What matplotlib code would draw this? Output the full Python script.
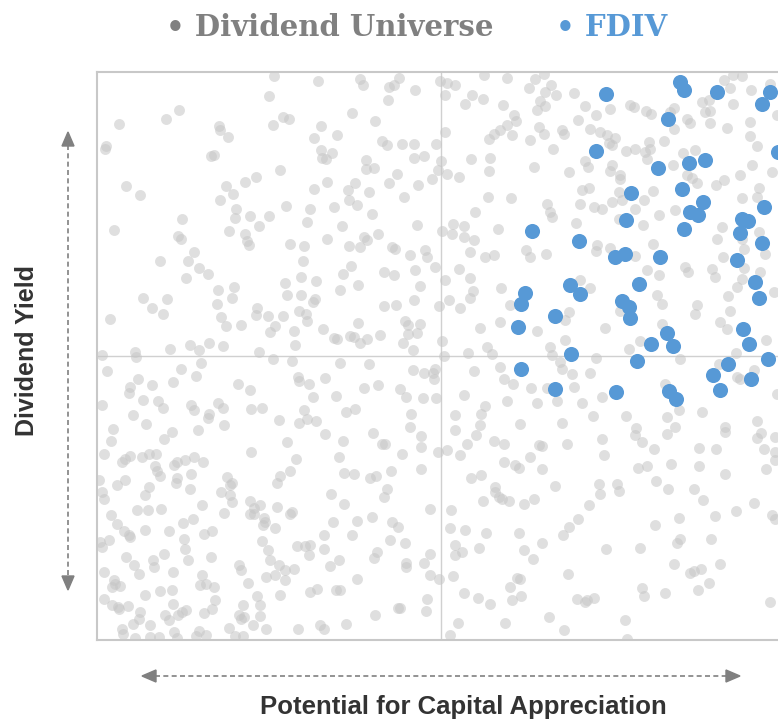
import matplotlib
matplotlib.use("Agg")
import matplotlib.pyplot as plt
from matplotlib.lines import Line2D
from matplotlib.patches import Polygon

# scores on an arbitrary 0..688 (capital appreciation) x 0..568 (dividend yield) scale
universe_x = [
    177, 221, 172, 82, 69, 186, 192, 176, 22, 122, 123, 131, 224, 217, 9, 8, 114, 117, 224, 225,
    229, 183, 159, 148, 29, 43, 129, 136, 123, 217, 230, 139, 138, 153, 162, 172, 189, 213, 210, 85,
    17, 81, 84, 132, 148, 150, 152, 193, 207, 97, 63, 91, 230, 206,
    263, 266, 302, 292, 297, 318, 291, 343, 350, 358, 348, 387, 410, 375, 386, 368, 406, 432, 438, 447,
    454, 448, 459, 443, 440, 448, 255, 278, 417, 419, 410, 403, 397, 392, 415, 442, 447, 433, 240, 348,
    285, 290, 305, 317, 339, 235, 269, 269, 277, 317, 327, 344, 341, 374, 393, 392, 437, 456, 258, 251,
    252, 260, 272, 292, 300, 321, 335, 350, 362, 307, 237, 275, 391, 414, 378, 450, 453, 455, 245, 320,
    267, 270, 281, 252, 263, 295, 298, 313, 328, 330, 345, 355, 356, 367, 367, 377, 373, 401, 429, 433,
    449, 388, 397,
    477, 488, 499, 513, 481, 533, 537, 549, 554, 577, 573, 627, 636, 645, 633, 605, 612, 608, 613, 636,
    654, 673, 590, 593, 613, 630, 653, 653, 680, 465, 467, 493, 503, 510, 518, 512, 515, 577, 567, 552,
    553, 548, 529, 538, 586, 598, 660, 550, 488, 491, 515, 513, 523, 523, 472, 576, 655, 675, 590, 595,
    600, 619, 627, 643, 485, 492, 556, 522, 662, 660, 645, 483, 497, 505, 515, 525, 547, 538, 578, 562,
    625, 479, 522, 546, 620, 645, 662, 556, 500, 499, 513, 538, 626, 647, 668,
    102, 111, 89, 121, 137, 135, 120, 46, 70, 55, 66, 13, 124, 129, 144, 204, 188, 219, 190, 204,
    218, 216, 160, 159, 171, 186, 178, 173, 202, 209, 210, 197, 226, 93, 102, 112, 126, 73, 104, 198,
    5, 38, 39, 162, 176, 195, 10, 84, 99, 76, 41, 33, 32, 55, 141, 153, 201, 202, 212, 228,
    216, 5, 46, 61, 66, 94, 97, 121, 126, 112, 111, 154, 165, 207, 210, 219, 202, 182, 36, 49,
    16, 14, 127, 101, 75, 67, 190, 228,
    254, 246, 243, 261, 287, 297, 318, 338, 323, 287, 299, 317, 342, 261, 308, 311, 323, 320, 311, 306,
    316, 237, 240, 253, 257, 263, 270, 283, 345, 348, 362, 373, 376, 373, 352, 363, 404, 413, 403, 383,
    440, 390, 395, 371, 347, 453, 455, 243, 272, 316, 327, 336, 337, 338, 267, 281, 303, 309, 326, 339,
    239, 377, 403, 407, 416, 434, 450, 367, 410, 440, 388, 384, 383, 379, 358, 358, 249, 258, 314, 313,
    324, 423, 276, 285, 288, 246, 324, 370, 397, 407, 442, 445, 350,
    483, 493, 550, 562, 588, 591, 615, 618, 645, 640, 647, 663, 677, 560, 565, 600, 598, 631, 633, 472,
    468, 508, 523, 565, 623, 630, 669, 468, 543, 532, 499, 583, 639, 622, 463, 465, 475, 477, 493, 568,
    640, 643, 657, 505, 485, 460, 605, 582, 496, 529, 570, 465, 539, 538, 545, 557, 578, 570, 628, 628,
    660, 664, 660, 678, 470, 505, 602, 619, 678, 667, 680,
    7, 25, 33, 28, 45, 52, 59, 58, 60, 63, 80, 77, 88, 97, 106, 80, 79, 94, 93, 154,
    199, 193, 183, 180, 2, 28, 20, 52, 48, 5, 7, 130, 135, 133, 124, 133, 135, 105, 40, 51,
    64, 14, 127, 153, 157, 163, 153, 157, 180, 193, 195, 167, 168, 166, 178, 20, 27, 32, 33, 48,
    72, 86, 96, 107, 115, 87, 88, 91, 3, 12, 5, 165, 171, 173, 200, 208, 213, 212, 227, 227,
    67, 29, 37, 42, 56, 57, 114, 76, 142, 144, 182, 188, 197, 178, 169, 188, 7, 105, 103, 109,
    117, 151, 17, 18, 15, 23, 48, 63, 75, 7, 183, 213, 220, 118, 115, 107, 76, 15, 21, 22,
    31, 43, 42, 36, 68, 72, 81, 85, 89, 53, 160, 163, 163, 146, 142, 144, 147, 156, 132, 169,
    201, 223, 227, 25, 26, 38, 53, 62, 77, 80, 102, 99, 109, 138, 146,
    242, 305, 341, 247, 257, 273, 279, 294, 324, 290, 287, 234, 247, 333, 275, 260, 236, 295, 301, 255,
    293, 308, 280, 277, 242, 233, 333, 327, 309, 309, 333, 342, 260, 239, 243, 330, 329, 301, 303, 278,
    249, 363, 407, 418, 422, 433, 445, 374, 384, 398, 398, 402, 405, 412, 386, 427, 437, 458, 354, 353,
    368, 389, 422, 358, 365, 358, 382, 427, 436, 445, 356, 420, 423, 413, 415, 424, 367, 381, 393, 361,
    353, 408, 452,
    507, 541, 550, 574, 602, 628, 669, 678, 502, 503, 520, 522, 559, 571, 597, 606, 657, 639, 492, 481,
    472, 466, 558, 582, 618, 675, 678, 509, 543, 583, 580, 614, 577, 593, 597, 604, 623, 471, 545, 547,
    568, 612, 601, 480, 488, 490, 497, 673, 528, 467, 530,
]
universe_y = [
    564, 559, 544, 530, 521, 523, 521, 515, 516, 514, 510, 503, 514, 502, 494, 491, 484, 485, 490, 482,
    481, 470, 463, 458, 454, 445, 454, 446, 440, 451, 458, 431, 422, 424, 414, 424, 434, 431, 418, 421,
    410, 404, 401, 409, 406, 399, 395, 396, 394, 388, 379, 379, 401, 379,
    561, 555, 562, 553, 555, 550, 540, 559, 557, 555, 545, 565, 562, 545, 541, 536, 535, 552, 561, 566,
    555, 548, 545, 539, 530, 534, 527, 519, 525, 519, 515, 510, 506, 501, 505, 513, 506, 500, 505, 508,
    499, 495, 496, 496, 496, 487, 480, 471, 472, 482, 484, 479, 470, 481, 482, 469, 473, 491, 457, 450,
    440, 435, 448, 457, 466, 455, 461, 466, 463, 443, 433, 426, 443, 442, 428, 436, 428, 423, 414, 415,
    403, 400, 406, 394, 393, 393, 391, 385, 390, 383, 409, 406, 416, 414, 403, 400, 388, 411, 390, 383,
    386, 383, 385,
    547, 534, 525, 531, 520, 535, 533, 529, 526, 532, 528, 560, 565, 564, 552, 538, 540, 528, 529, 536,
    550, 556, 521, 517, 517, 512, 518, 504, 525, 510, 506, 511, 508, 505, 502, 497, 495, 511, 499, 498,
    491, 488, 489, 491, 487, 490, 494, 481, 479, 473, 475, 469, 465, 461, 468, 475, 475, 468, 465, 462,
    457, 455, 460, 465, 450, 452, 449, 448, 452, 443, 442, 436, 433, 431, 438, 440, 440, 431, 430, 425,
    413, 417, 421, 415, 401, 401, 408, 396, 395, 389, 392, 384, 383, 391, 386,
    372, 366, 362, 350, 353, 342, 336, 342, 341, 332, 326, 321, 323, 314, 315, 363, 357, 359, 345, 345,
    341, 338, 332, 325, 324, 324, 314, 308, 329, 326, 319, 309, 311, 295, 290, 297, 294, 291, 277, 295,
    285, 288, 283, 288, 281, 279, 269, 271, 264, 258, 261, 253, 247, 255, 256, 250, 263, 259, 256, 262,
    243, 235, 240, 239, 232, 235, 230, 237, 232, 226, 222, 231, 232, 230, 221, 219, 217, 220, 225, 216,
    211, 199, 215, 210, 208, 201, 198, 206,
    374, 366, 350, 355, 368, 365, 370, 373, 354, 334, 335, 340, 334, 317, 319, 315, 316, 307, 306, 297,
    290, 302, 301, 304, 303, 297, 301, 305, 299, 360, 371, 362, 349, 342, 340, 332, 352, 335, 318, 312,
    309, 293, 286, 287, 284, 293, 285, 277, 276, 270, 267, 267, 261, 271, 252, 255, 251, 243, 242, 242,
    244, 269, 273, 261, 256, 252, 252, 245, 239, 237, 234, 226, 215, 205, 225, 210, 228, 231, 226, 213,
    204, 216, 207, 196, 196, 199, 193, 196, 199, 196, 195, 194, 190,
    360, 352, 370, 365, 373, 368, 371, 363, 361, 353, 372, 368, 348, 345, 336, 335, 326, 344, 329, 328,
    320, 312, 329, 316, 318, 311, 300, 300, 299, 291, 282, 281, 287, 276, 278, 271, 266, 253, 267, 256,
    263, 261, 270, 243, 237, 239, 228, 230, 224, 224, 223, 217, 212, 205, 198, 191, 213, 206, 213, 208,
    219, 207, 202, 203, 196, 201, 192, 191, 188, 191, 246,
    186, 178, 184, 181, 183, 186, 186, 174, 169, 164, 178, 175, 180, 183, 178, 162, 157, 166, 151, 188,
    181, 169, 164, 157, 160, 160, 155, 153, 145, 148, 141, 163, 157, 155, 148, 145, 138, 135, 130, 130,
    131, 125, 127, 139, 132, 135, 126, 126, 133, 126, 128, 122, 118, 115, 112, 116, 109, 105, 103, 110,
    109, 117, 121, 106, 109, 101, 91, 80, 98, 100, 93, 99, 90, 80, 94, 94, 95, 85, 105, 91,
    86, 83, 75, 66, 80, 73, 83, 68, 75, 70, 75, 70, 71, 65, 63, 60, 68, 65, 55, 56,
    53, 57, 60, 56, 53, 54, 45, 49, 50, 41, 45, 48, 51, 40, 31, 27, 36, 35, 33, 31,
    34, 28, 21, 16, 25, 20, 25, 28, 30, 15, 44, 35, 24, 35, 25, 21, 23, 15, 12, 11,
    11, 15, 11, 11, 6, 2, 3, 3, 8, 2, 9, 4, 5, 4, 4,
    183, 186, 188, 167, 166, 162, 164, 169, 171, 151, 143, 146, 136, 131, 123, 119, 118, 118, 113, 105,
    100, 97, 88, 82, 80, 74, 86, 77, 77, 73, 65, 61, 61, 50, 50, 41, 29, 32, 32, 25,
    16, 185, 178, 175, 172, 183, 171, 162, 165, 153, 148, 143, 141, 139, 139, 136, 141, 154, 130, 112,
    110, 107, 107, 95, 88, 85, 92, 90, 81, 97, 64, 62, 61, 53, 40, 44, 47, 42, 36, 17,
    5, 17, 23,
    185, 172, 174, 176, 174, 166, 171, 180, 156, 146, 156, 149, 159, 151, 151, 140, 137, 129, 135, 121,
    113, 105, 115, 122, 124, 125, 121, 91, 92, 101, 97, 101, 76, 67, 69, 71, 76, 66, 52, 44,
    47, 57, 50, 41, 38, 40, 42, 38, 20, 10, 1,
]

fdiv_x = [
    435, 509, 583, 587, 620, 673, 665, 571, 499, 561, 592, 608, 681, 534, 585, 606, 593, 601, 667, 529,
    587, 645, 651, 643, 665, 482, 518, 528, 563, 640, 428, 424, 421, 458, 424, 458, 473, 483, 542, 525,
    532, 533, 658, 662, 570, 576, 554, 646, 652, 474, 540, 671, 631, 616, 623, 654, 519, 572, 579,
]
fdiv_y = [
    409, 546, 558, 550, 548, 548, 536, 521, 489, 472, 477, 480, 488, 447, 451, 438, 428, 425, 433, 420,
    411, 421, 419, 407, 397, 399, 383, 386, 383, 380, 347, 336, 313, 324, 271, 251, 355, 346, 356, 339,
    333, 322, 358, 342, 307, 294, 296, 311, 296, 286, 279, 281, 276, 265, 250, 261, 248, 249, 241,
]

x_max, y_max = 688, 568
x_mid, y_mid = 344, 284

W, H = 778, 721
GREY = "#808080"
BLUE = "#5799d6"


def fx(px):
    return px / W


def fy(py):
    return 1 - py / H


fig = plt.figure(figsize=(W / 100, H / 100), dpi=100)
ax = fig.add_axes([fx(97), fy(640), 688 / W, 568 / H])
ax.set_xlim(0, x_max)
ax.set_ylim(0, y_max)
ax.set_xticks([])
ax.set_yticks([])
for s in ax.spines.values():
    s.set_color("#c8c8c8")
    s.set_linewidth(1.5)

ax.axvline(x_mid, color="#d0d0d0", lw=1, zorder=0)
ax.axhline(y_mid, color="#d0d0d0", lw=1, zorder=0)

ax.scatter(universe_x, universe_y, s=62, color="#c6c6c6", alpha=0.55,
           linewidths=0, zorder=2)
ax.scatter(fdiv_x, fdiv_y, s=118, color=BLUE, linewidths=0, zorder=3)

# legend as text at the top
fig.text(fx(166), fy(27), "\u2022 Dividend Universe", color=GREY,
         fontsize=21, fontweight="bold", family="DejaVu Serif", va="center")
fig.text(fx(556), fy(27), "\u2022 FDIV", color=BLUE,
         fontsize=21, fontweight="bold", family="DejaVu Serif", va="center")

label_font = ["Liberation Sans", "DejaVu Sans"]
fig.text(fx(27), fy(350), "Dividend Yield", rotation=90, ha="center", va="center",
         fontsize=18, fontweight="bold", color="#333333", family=label_font)
fig.text(fx(463), fy(707), "Potential for Capital Appreciation", ha="center",
         va="center", fontsize=18.5, fontweight="bold", color="#333333",
         family=label_font)

# dashed double-headed arrows
dash = (0, (3, 2))
fig.add_artist(Line2D([fx(68), fx(68)], [fy(145), fy(577)], color=GREY, lw=1.2,
                      ls=dash, transform=fig.transFigure))
fig.add_artist(Line2D([fx(155), fx(727)], [fy(676), fy(676)], color=GREY, lw=1.2,
                      ls=dash, transform=fig.transFigure))
heads = [
    [(68, 132), (62, 146), (74, 146)],
    [(68, 590), (62, 576), (74, 576)],
    [(142, 676), (156, 670), (156, 682)],
    [(740, 676), (726, 670), (726, 682)],
]
for h in heads:
    fig.add_artist(Polygon([(fx(a), fy(b)) for a, b in h], closed=True,
                           color=GREY, transform=fig.transFigure))

fig.savefig("out.png", dpi=100)
